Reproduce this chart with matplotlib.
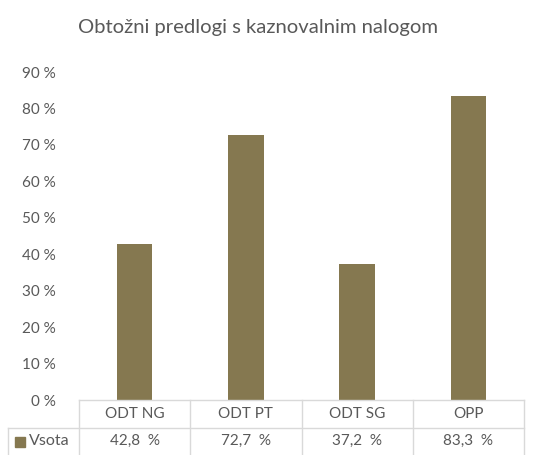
import matplotlib
matplotlib.use('Agg')
import matplotlib.pyplot as plt
from matplotlib.lines import Line2D
from matplotlib.patches import Rectangle

categories = ['ODT NG', 'ODT PT', 'ODT SG', 'OPP']
values = [42.8, 72.7, 37.2, 83.3]
series_name = 'Vsota'
title = 'Obtožni predlogi s kaznovalnim nalogom'
yticks = [0, 10, 20, 30, 40, 50, 60, 70, 80, 90]

bar_color = '#857850'
text_color = '#595959'
grid_color = '#d9d9d9'

plt.rcParams['font.family'] = ['Lato', 'DejaVu Sans']

W, H = 533, 455
fig = plt.figure(figsize=(W / 100, H / 100), dpi=100)

# plot area in pixels
left, right, top, bottom = 79, 524, 72, 400
ax = fig.add_axes([left / W, 1 - bottom / H, (right - left) / W, (bottom - top) / H])

x = range(len(categories))
ax.bar(x, values, width=0.32, color=bar_color)
ax.set_xlim(-0.5, len(categories) - 0.5)
ax.set_ylim(0, 90)
ax.set_yticks(yticks)
ax.set_yticklabels(['%d %%' % t for t in yticks])
ax.set_xticks([])
ax.tick_params(axis='y', length=0, pad=17, labelsize=11, labelcolor=text_color)
for s in ax.spines.values():
    s.set_visible(False)

fig.text(258 / W, 1 - 27 / H, title, ha='center', va='center', fontsize=14.6, color=text_color)


def fx(px):
    return px / W


def fy(py):
    return 1 - py / H


# data table under the chart
row1, row2, row3 = 400, 428, 456
col_w = (right - left) / len(categories)
edges = [left + i * col_w for i in range(len(categories) + 1)]

def hline(x0, x1, y):
    fig.add_artist(Line2D([fx(x0), fx(x1)], [fy(y), fy(y)], color=grid_color, lw=1))

def vline(x, y0, y1):
    fig.add_artist(Line2D([fx(x), fx(x)], [fy(y0), fy(y1)], color=grid_color, lw=1))

hline(left, right, row1)
hline(8, right, row2)
vline(8, row2, row3)
for e in edges:
    vline(e, row1, row3)

for i, (c, v) in enumerate(zip(categories, values)):
    cx = fx(edges[i] + col_w / 2)
    fig.text(cx, fy((row1 + row2) / 2), c, ha='center', va='center', fontsize=11, color=text_color)
    fig.text(cx, fy((row2 + row3) / 2 - 1), ('%.1f  %%' % v).replace('.', ','),
             ha='center', va='center', fontsize=11, color=text_color)

fig.add_artist(Rectangle((fx(15), fy(447)), fx(10), 10 / H, color=bar_color))
fig.text(fx(29), fy((row2 + row3) / 2 - 1), series_name, ha='left', va='center',
         fontsize=11.5, color=text_color)

fig.savefig('out.png', dpi=100)
